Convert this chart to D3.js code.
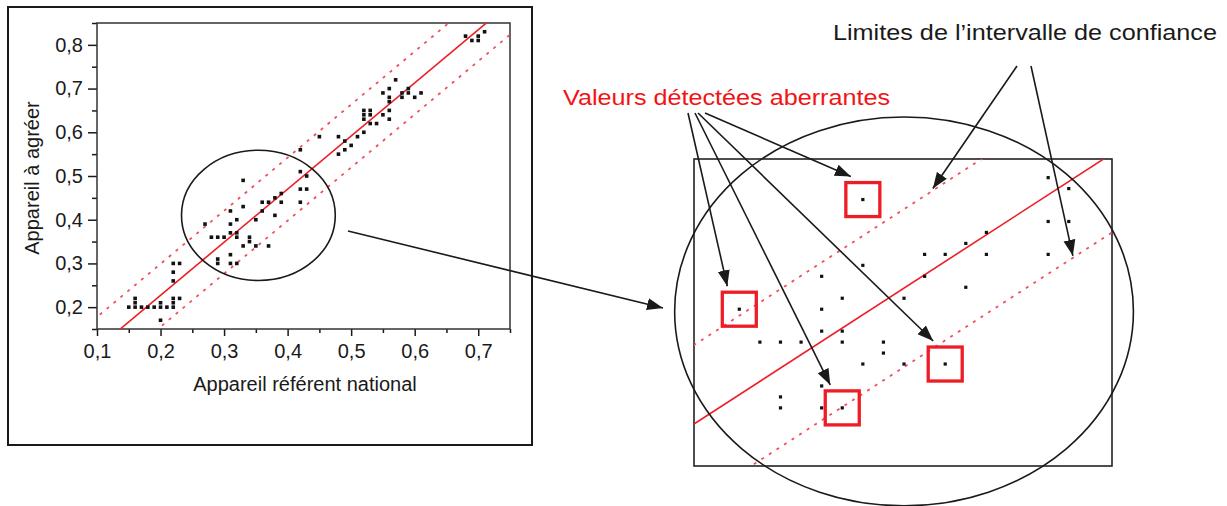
<!DOCTYPE html>
<html>
<head>
<meta charset="utf-8">
<title>Appareil à agréer / appareil référent national</title>
<style>
  body { margin: 0; background: #fff; }
  svg { display: block; font-family: "Liberation Sans", Arial, sans-serif; }
</style>
</head>
<body>
<div id="chart"></div>
<script src="https://d3js.org/d3.v7.min.js"></script>
<script>
// mesures [appareil référent national, appareil à agréer]
var lowPoints = [
  [0.15,0.20],[0.16,0.22],[0.16,0.21],[0.16,0.20],[0.17,0.20],[0.18,0.20],[0.19,0.20],
  [0.20,0.20],[0.20,0.21],[0.20,0.17],[0.21,0.20],[0.22,0.22],[0.22,0.21],[0.22,0.20],
  [0.23,0.22],[0.22,0.30],[0.23,0.30],[0.22,0.28],[0.22,0.26]
];
var midPoints = [
  [0.42,0.51],[0.43,0.50],[0.42,0.47],[0.43,0.47],[0.39,0.46],[0.38,0.45],[0.36,0.44],
  [0.37,0.44],[0.39,0.44],[0.42,0.44],[0.33,0.43],[0.31,0.42],[0.36,0.42],[0.38,0.41],
  [0.32,0.40],[0.35,0.40],[0.27,0.39],[0.31,0.39],[0.31,0.37],[0.32,0.37],[0.28,0.36],
  [0.29,0.36],[0.30,0.36],[0.32,0.36],[0.34,0.36],[0.34,0.35],[0.33,0.34],[0.35,0.34],
  [0.37,0.34],[0.31,0.32],[0.29,0.31],[0.29,0.30],[0.31,0.30],[0.32,0.30],[0.33,0.49]
];
var highPoints = [
  [0.42,0.56],[0.45,0.59],[0.48,0.59],[0.48,0.55],[0.49,0.58],[0.49,0.56],[0.50,0.57],
  [0.51,0.59],[0.52,0.60],[0.52,0.65],[0.52,0.64],[0.52,0.63],[0.53,0.65],[0.53,0.64],
  [0.53,0.62],[0.54,0.62],[0.55,0.69],[0.55,0.64],[0.56,0.70],[0.56,0.68],[0.56,0.67],
  [0.56,0.65],[0.56,0.63],[0.57,0.72],[0.58,0.69],[0.58,0.68],[0.59,0.70],[0.59,0.69],
  [0.60,0.68],[0.61,0.69],[0.68,0.82],[0.69,0.81],[0.70,0.82],[0.70,0.81],[0.71,0.83]
];
var outliers = [[0.27,0.39],[0.33,0.49],[0.37,0.34],[0.32,0.30]];

// droite de régression et demi-largeur de l'intervalle
var fitIntercept = -0.016, fitSlope = 1.215, bandHalf = 0.072;

var xTicks = [0.1,0.2,0.3,0.4,0.5,0.6,0.7];
var xMinor = [0.15,0.25,0.35,0.45,0.55,0.65,0.75];
var yTicks = [0.2,0.3,0.4,0.5,0.6,0.7,0.8];
var yMinor = [0.15,0.25,0.35,0.45,0.55,0.65,0.75,0.85];

var points = lowPoints.concat(midPoints, highPoints);

var width = 1227, height = 506;
var RED = "#ee1c25", PINK = "#f0505a", INK = "#1a1a1a";

var svg = d3.select("#chart").append("svg")
  .attr("width", width)
  .attr("height", height);

svg.append("rect").attr("width", width).attr("height", height).attr("fill", "#fff");

var defs = svg.append("defs");
defs.append("marker")
  .attr("id", "head")
  .attr("markerUnits", "userSpaceOnUse")
  .attr("viewBox", "0 -7 16 14")
  .attr("refX", 16).attr("refY", 0)
  .attr("markerWidth", 16).attr("markerHeight", 14)
  .attr("orient", "auto")
  .append("path").attr("d", "M0,-6L16,0L0,6Z").attr("fill", INK);

var frLocale = d3.formatLocale({decimal: ",", thousands: " ", grouping: [3], currency: ["", "€"]});
var fmt = frLocale.format(".1f");

function fit(v) { return fitIntercept + fitSlope * v; }

// ---------- graphique de gauche ----------
var x = d3.scaleLinear().domain([0.1, 0.75]).range([97, 510]);
var y = d3.scaleLinear().domain([0.15, 0.85]).range([329, 23]);

svg.append("rect")
  .attr("x", 8).attr("y", 7).attr("width", 524).attr("height", 438)
  .attr("fill", "none").attr("stroke", INK).attr("stroke-width", 2);

defs.append("clipPath").attr("id", "clipL").append("rect")
  .attr("x", x(0.1)).attr("y", y(0.85))
  .attr("width", x(0.75) - x(0.1)).attr("height", y(0.15) - y(0.85));

function styleAxis(g) {
  g.select(".domain").remove();
  g.selectAll("line").attr("stroke", INK).attr("stroke-width", 1.5);
  g.selectAll("text").attr("fill", INK).style("font-size", "20px");
}

svg.append("g").attr("transform", "translate(0," + y(0.15) + ")")
  .call(d3.axisBottom(x).tickValues(xTicks).tickFormat(fmt).tickSize(7).tickSizeOuter(0).tickPadding(8))
  .call(styleAxis);
svg.append("g").attr("transform", "translate(0," + y(0.15) + ")")
  .call(d3.axisBottom(x).tickValues(xMinor).tickFormat("").tickSize(4).tickSizeOuter(0))
  .call(styleAxis);
svg.append("g").attr("transform", "translate(" + x(0.1) + ",0)")
  .call(d3.axisLeft(y).tickValues(yTicks).tickFormat(fmt).tickSize(9).tickSizeOuter(0).tickPadding(5))
  .call(styleAxis);
svg.append("g").attr("transform", "translate(" + x(0.1) + ",0)")
  .call(d3.axisLeft(y).tickValues(yMinor).tickFormat("").tickSize(5).tickSizeOuter(0))
  .call(styleAxis);

svg.append("rect")
  .attr("x", x(0.1)).attr("y", y(0.85))
  .attr("width", x(0.75) - x(0.1)).attr("height", y(0.15) - y(0.85))
  .attr("fill", "none").attr("stroke", "#333").attr("stroke-width", 1.5);

svg.append("text")
  .attr("x", 305).attr("y", 391)
  .attr("text-anchor", "middle").attr("fill", INK).style("font-size", "20px")
  .text("Appareil référent national");
svg.append("text")
  .attr("transform", "translate(39,178) rotate(-90)")
  .attr("text-anchor", "middle").attr("fill", INK).style("font-size", "20px")
  .text("Appareil à agréer");

function drawFit(g, sx, sy, xs) {
  var line = d3.line().x(function(d) { return sx(d[0]); }).y(function(d) { return sy(d[1]); });
  [0, bandHalf, -bandHalf].forEach(function(off) {
    g.append("path")
      .datum(xs.map(function(v) { return [v, fit(v) + off]; }))
      .attr("d", line)
      .attr("fill", "none")
      .attr("stroke", off === 0 ? RED : PINK)
      .attr("stroke-width", off === 0 ? 1.6 : 1.8)
      .attr("stroke-dasharray", off === 0 ? null : "3,6");
  });
}

var plotL = svg.append("g").attr("clip-path", "url(#clipL)");
drawFit(plotL, x, y, [0.05, 0.8]);

plotL.selectAll("rect.pt").data(points).enter().append("rect")
  .attr("class", "pt")
  .attr("x", function(d) { return x(d[0]) - 1.8; })
  .attr("y", function(d) { return y(d[1]) - 1.8; })
  .attr("width", 3.6).attr("height", 3.6)
  .attr("fill", "#111");

// zone agrandie
var zoneL = {cx: 0.354, cy: 0.41, rx: 0.121, ry: 0.149};
svg.append("ellipse")
  .attr("cx", x(zoneL.cx)).attr("cy", y(zoneL.cy))
  .attr("rx", x(zoneL.cx + zoneL.rx) - x(zoneL.cx))
  .attr("ry", y(zoneL.cy) - y(zoneL.cy + zoneL.ry))
  .attr("fill", "none").attr("stroke", INK).attr("stroke-width", 1.6);

// ---------- agrandissement à droite ----------
var xR = d3.scaleLinear().domain([0.248, 0.451]).range([694, 1112]);
var yR = d3.scaleLinear().domain([0.247, 0.527]).range([466, 159]);

defs.append("clipPath").attr("id", "clipR").append("rect")
  .attr("x", 694).attr("y", 159).attr("width", 418).attr("height", 307);

svg.append("rect")
  .attr("x", 694).attr("y", 159).attr("width", 418).attr("height", 307)
  .attr("fill", "none").attr("stroke", "#222").attr("stroke-width", 1.6);

var plotR = svg.append("g").attr("clip-path", "url(#clipR)");
drawFit(plotR, xR, yR, [0.2, 0.5]);

plotR.selectAll("rect.pt").data(points.filter(function(d) {
    return d[0] >= 0.248 && d[0] <= 0.451 && d[1] >= 0.247 && d[1] <= 0.527;
  })).enter().append("rect")
  .attr("class", "pt")
  .attr("x", function(d) { return xR(d[0]) - 1.6; })
  .attr("y", function(d) { return yR(d[1]) - 1.6; })
  .attr("width", 3.2).attr("height", 3.2)
  .attr("fill", "#111");

svg.selectAll("rect.box").data(outliers).enter().append("rect")
  .attr("class", "box")
  .attr("x", function(d) { return xR(d[0]) - 17; })
  .attr("y", function(d) { return yR(d[1]) - 17; })
  .attr("width", 34).attr("height", 34)
  .attr("fill", "none").attr("stroke", RED).attr("stroke-width", 3.3);

var zoneR = {cx: 0.350, cy: 0.388, rx: 0.1114, ry: 0.1773};
svg.append("ellipse")
  .attr("cx", xR(zoneR.cx)).attr("cy", yR(zoneR.cy))
  .attr("rx", xR(zoneR.cx + zoneR.rx) - xR(zoneR.cx))
  .attr("ry", yR(zoneR.cy) - yR(zoneR.cy + zoneR.ry))
  .attr("fill", "none").attr("stroke", INK).attr("stroke-width", 1.6);

// ---------- annotations ----------
function arrow(x1, y1, x2, y2) {
  svg.append("line")
    .attr("x1", x1).attr("y1", y1).attr("x2", x2).attr("y2", y2)
    .attr("stroke", INK).attr("stroke-width", 1.6)
    .attr("marker-end", "url(#head)");
}

arrow(348, 231, 663, 308);

svg.append("text")
  .attr("x", 563).attr("y", 105)
  .attr("textLength", 327).attr("lengthAdjust", "spacingAndGlyphs")
  .attr("fill", "#f01414").style("font-size", "22px")
  .text("Valeurs détectées aberrantes");

svg.append("text")
  .attr("x", 833).attr("y", 40)
  .attr("textLength", 384).attr("lengthAdjust", "spacingAndGlyphs")
  .attr("fill", INK).style("font-size", "22px")
  .text("Limites de l’intervalle de confiance");

// départ de chaque flèche sous « Valeurs détectées aberrantes »
var outlierStarts = [688, 705, 698, 695];
outliers.forEach(function(d, i) {
  arrow(outlierStarts[i], 113, xR(d[0]) - 12, yR(d[1]) - 23);
});

// flèches vers les limites de l'intervalle
arrow(1017, 66, xR(0.364), yR(fit(0.364) + bandHalf) - 2);
arrow(1031, 66, xR(0.432), yR(fit(0.432) - bandHalf) - 2);
</script>
</body>
</html>
